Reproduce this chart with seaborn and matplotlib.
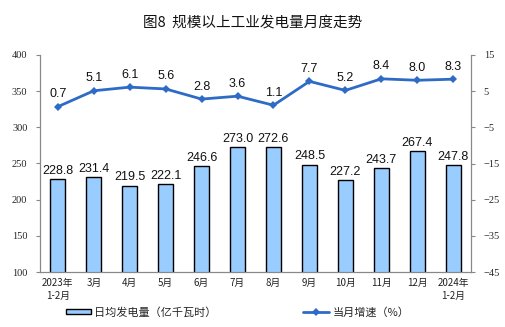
import matplotlib
matplotlib.use("Agg")
import matplotlib.pyplot as plt
import seaborn as sns
import numpy as np
import pandas as pd
from matplotlib.patches import Patch
from matplotlib.lines import Line2D

categories = ["2023年\n1-2月", "3月", "4月", "5月", "6月", "7月", "8月", "9月",
              "10月", "11月", "12月", "2024年\n1-2月"]
daily_gen = [228.8, 231.4, 219.5, 222.1, 246.6, 273.0, 272.6, 248.5, 227.2, 243.7, 267.4, 247.8]
growth = [0.7, 5.1, 6.1, 5.6, 2.8, 3.6, 1.1, 7.7, 5.2, 8.4, 8.0, 8.3]
left_ticks = [100, 150, 200, 250, 300, 350, 400]
right_ticks = [-45, -35, -25, -15, -5, 5, 15]

sns.set_style("white")
plt.rcParams['font.family'] = ['Noto Sans CJK SC', 'DejaVu Sans']

df = pd.DataFrame({"cat": categories, "gen": daily_gen, "growth": growth})
df["pos"] = np.arange(len(df))

fig = plt.figure(figsize=(5.05, 3.27), dpi=100)
ax = fig.add_axes([0.079, 0.168, 0.854, 0.664])

sns.barplot(data=df, x="cat", y="gen", ax=ax, color="#99ccff", edgecolor="black",
            linewidth=1.0, width=0.42, saturation=1)
ax.set_ylim(100, 400)
ax.set_yticks(left_ticks)
ax.set_xlim(-0.5, len(df) - 0.5)
ax.set_xlabel("")
ax.set_ylabel("")
for i, v in enumerate(daily_gen):
    ax.text(i, v + 3, f"{v:.1f}", ha="center", va="bottom", fontsize=9,
            family="Liberation Sans", color="#111111")

ax2 = ax.twinx()
sns.lineplot(data=df, x="pos", y="growth", ax=ax2, color="#2e6bc6", linewidth=2,
             marker="D", markersize=4, markeredgewidth=0)
ax2.set_ylim(-45, 15)
ax2.set_yticks(right_ticks)
ax2.set_xlim(-0.5, len(df) - 0.5)
ax2.set_ylabel("")
ax2.set_xlabel("")
for i, v in enumerate(growth):
    ax2.text(i, v + 1.8, f"{v:.1f}", ha="center", va="bottom", fontsize=9,
             family="Liberation Sans", color="#111111")

for a in (ax, ax2):
    for s in ["top"]:
        a.spines[s].set_visible(False)
    for s in ["left", "right", "bottom"]:
        a.spines[s].set_color("#888888")
        a.spines[s].set_linewidth(0.8)

ax.set_xticks(np.arange(len(df)))
ax.set_xticklabels(categories, fontsize=7, color="#222222", linespacing=1.4)
ax.tick_params(axis="x", length=0, pad=4)
ax.set_xticks(np.arange(len(df) + 1) - 0.5, minor=True)
ax.tick_params(axis="x", which="minor", length=3, direction="in", color="#888888")
ax.tick_params(axis="y", length=3, direction="out", color="#888888", labelsize=7.5, pad=6)
ax2.tick_params(axis="y", length=3, direction="out", color="#888888", labelsize=7.5, pad=6)
for lab in ax.get_yticklabels() + ax2.get_yticklabels():
    lab.set_family("Liberation Serif")

fig.text(0.5, 0.93, "图8  规模以上工业发电量月度走势", ha="center", va="center",
         fontsize=10.5, color="#111111")

handles = [Patch(facecolor="#99ccff", edgecolor="black", linewidth=1.0, label="日均发电量（亿千瓦时）"),
           Line2D([0], [0], color="#2e6bc6", lw=2, marker="D", markersize=4,
                  markeredgewidth=0, label="当月增速（%）")]
fig.legend(handles=handles, loc="center", bbox_to_anchor=(0.47, 0.045), ncol=2,
           frameon=False, fontsize=8, handlelength=2.3, handleheight=0.4,
           columnspacing=7.8, handletextpad=0.3)

fig.savefig("out.png", dpi=100)
